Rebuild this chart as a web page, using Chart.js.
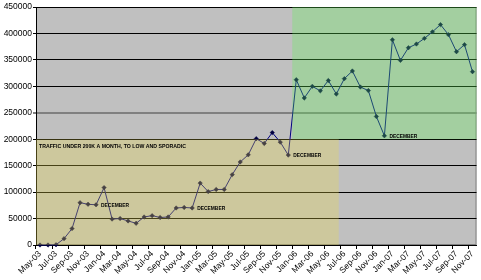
<!DOCTYPE html>
<html>
<head>
<meta charset="utf-8">
<script src="https://cdn.jsdelivr.net/npm/chart.js@4"></script>
<style>
  html, body { margin: 0; padding: 0; background: #fff; }
  canvas { display: block; }
</style>
</head>
<body>
<canvas id="chart" width="481" height="280"></canvas>
<script>
// monthly traffic, May-03 .. Nov-07
const months = [
  'May-03', 'Jun-03', 'Jul-03', 'Aug-03', 'Sep-03', 'Oct-03', 'Nov-03', 'Dec-03',
  'Jan-04', 'Feb-04', 'Mar-04', 'Apr-04', 'May-04', 'Jun-04', 'Jul-04', 'Aug-04',
  'Sep-04', 'Oct-04', 'Nov-04', 'Dec-04',
  'Jan-05', 'Feb-05', 'Mar-05', 'Apr-05', 'May-05', 'Jun-05', 'Jul-05', 'Aug-05',
  'Sep-05', 'Oct-05', 'Nov-05', 'Dec-05',
  'Jan-06', 'Feb-06', 'Mar-06', 'Apr-06', 'May-06', 'Jun-06', 'Jul-06', 'Aug-06',
  'Sep-06', 'Oct-06', 'Nov-06', 'Dec-06',
  'Jan-07', 'Feb-07', 'Mar-07', 'Apr-07', 'May-07', 'Jun-07', 'Jul-07', 'Aug-07',
  'Sep-07', 'Oct-07', 'Nov-07'
];
const traffic = [
  0, 0, 500, 12000, 31000, 80000, 77000, 76000,
  108500, 49000, 50000, 45500, 41000, 53000, 55500, 52000,
  53000, 70000, 71000, 70000,
  117000, 101000, 105000, 105000, 133000, 157000, 170500, 201000,
  192000, 212500, 194500, 170000,
  312500, 278000, 300000, 291500, 311000, 285500, 314500, 329000,
  298700, 292000, 243000, 206500,
  388000, 349000, 373000, 380000, 390700, 403000, 416700, 397700,
  365500, 378800, 327700
];
const yMin = 0;
const yMax = 450000;
const yStep = 50000;

// shaded zones: [category from, category to, value from, value to]
const lowZone = [-0.5, 37.3, 0, 200000];
const highZone = [31.5, 54.5, 200000, 450000];

const decemberIdx = [7, 19, 31, 43];
const decemberText = 'DECEMBER';
const noteText = 'TRAFFIC UNDER 200K A MONTH, TO LOW AND SPORADIC';

// draw bold text squeezed to a given width
function fitText(ctx, text, x, y, w) {
  ctx.font = 'bold 6px "Liberation Sans"';
  const m = ctx.measureText(text).width;
  ctx.save();
  ctx.translate(x, y);
  ctx.scale(w / m, 1);
  ctx.fillText(text, 0, 0);
  ctx.restore();
}

const zones = {
  id: 'zones',
  beforeDraw(chart) {
    const { ctx, chartArea: a } = chart;
    ctx.save();
    ctx.fillStyle = '#c0c0c0';
    ctx.fillRect(a.left, a.top, a.right - a.left, a.bottom - a.top);
    ctx.strokeStyle = '#808080';
    ctx.lineWidth = 1;
    ctx.strokeRect(a.left + 0.5, a.top + 0.5, a.right - a.left - 1, a.bottom - a.top - 1);
    ctx.restore();
  },
  afterDatasetsDraw(chart) {
    const { ctx, chartArea: a, scales: { x, y } } = chart;
    const band = (z, color) => {
      const x1 = Math.max(a.left, x.getPixelForValue(z[0]));
      const x2 = Math.min(a.right, x.getPixelForValue(z[1]));
      const y1 = y.getPixelForValue(z[3]);
      const y2 = y.getPixelForValue(z[2]);
      ctx.fillStyle = color;
      ctx.fillRect(x1, y1, x2 - x1, y2 - y1);
    };
    ctx.save();
    band(lowZone, 'rgba(235,219,75,0.3)');
    band(highZone, 'rgba(95,242,85,0.3)');

    ctx.fillStyle = '#000';
    ctx.textBaseline = 'middle';
    ctx.textAlign = 'left';
    fitText(ctx, noteText, a.left + 3, y.getPixelForValue(lowZone[3]) + 7, 147);
    decemberIdx.forEach(i => {
      const px = x.getPixelForValue(i);
      const py = y.getPixelForValue(traffic[i]);
      fitText(ctx, decemberText, px + 5, py + 0.5, 28);
    });
    ctx.restore();
  }
};

const tickFont = { family: '"Liberation Sans", Arial, sans-serif', size: 8.5 };

new Chart(document.getElementById('chart'), {
  type: 'line',
  data: {
    labels: months,
    datasets: [{
      data: traffic,
      borderColor: '#000080',
      borderWidth: 1,
      tension: 0,
      pointStyle: 'rectRot',
      pointRadius: 2.2,
      pointBackgroundColor: '#000040',
      pointBorderColor: '#000040',
      pointBorderWidth: 0.5,
      clip: false
    }]
  },
  options: {
    responsive: false,
    animation: false,
    devicePixelRatio: 1,
    layout: { padding: { top: 7, right: 4, left: 0, bottom: 0 } },
    plugins: { legend: { display: false }, tooltip: { enabled: false } },
    scales: {
      x: {
        offset: true,
        grid: {
          offset: true,
          drawOnChartArea: false,
          tickLength: 4,
          color: c => (c.type !== 'tick' || c.index % 2) ? 'rgba(0,0,0,0)' : '#000'
        },
        border: { color: '#000' },
        ticks: {
          autoSkip: false,
          maxRotation: 45,
          minRotation: 45,
          padding: 0,
          color: '#000',
          font: tickFont,
          callback: (v, i) => (i % 2 ? '' : months[i])
        },
        afterFit: s => { s.height = 35; }
      },
      y: {
        min: yMin,
        max: yMax,
        ticks: {
          stepSize: yStep,
          padding: 1,
          color: '#000',
          font: tickFont,
          callback: v => String(v)
        },
        grid: {
          tickLength: 3,
          color: c => (c.tick && c.tick.value === 250000) ? '#808080' : '#000',
          lineWidth: c => (c.tick && c.tick.value === 250000) ? 2 : 1
        },
        border: { color: '#000' },
        afterFit: s => { s.width = 36; }
      }
    }
  },
  plugins: [zones]
});
</script>
</body>
</html>
